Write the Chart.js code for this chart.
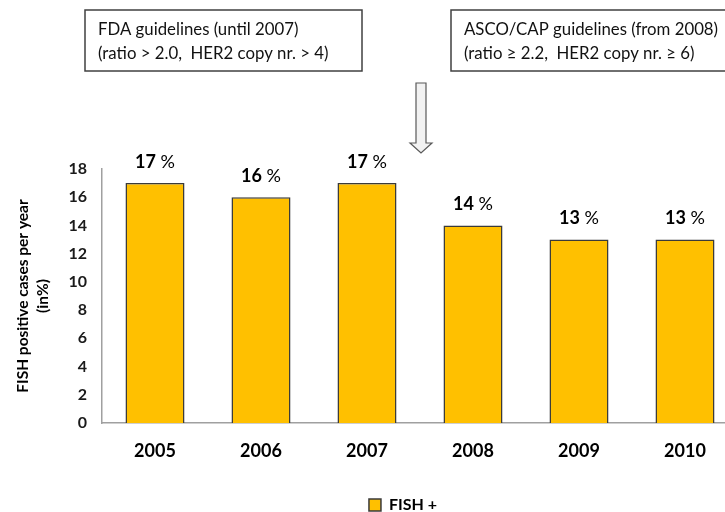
<!DOCTYPE html>
<html><head><meta charset="utf-8">
<script src="https://cdn.jsdelivr.net/npm/chart.js@4"></script>
<style>
html,body{margin:0;padding:0;overflow:hidden;background:#fff;width:725px;height:512px}
#wrap{position:relative;width:760px;height:512px}
</style>
</head><body><div id="wrap"><canvas id="c" width="760" height="512"></canvas></div>
<script>
const categories = ['2005', '2006', '2007', '2008', '2009', '2010'];
const fishPositive = [17, 16, 17, 14, 13, 13];
const yTickValues = [0, 2, 4, 6, 8, 10, 12, 14, 16, 18];
const seriesName = 'FISH +';
const yTitleLines = ['FISH positive cases per year', '(in%)'];
const noteFDA = ['FDA guidelines (until 2007)', '(ratio > 2.0,  HER2 copy nr. > 4)'];
const noteASCO = ['ASCO/CAP guidelines (from 2008)', '(ratio \u2265 2.2,  HER2 copy nr. \u2265 6)'];

const FONT = 'Lato, "Open Sans", sans-serif';

const extras = {
  id: 'extras',
  afterDraw(chart) {
    const ctx = chart.ctx;
    ctx.save();
    function box(x, y, w, h, lines) {
      ctx.fillStyle = '#fff';
      ctx.fillRect(x, y, w, h);
      ctx.strokeStyle = '#404040';
      ctx.lineWidth = 1.5;
      ctx.strokeRect(x, y, w, h);
      ctx.fillStyle = '#111';
      ctx.font = '16.8px ' + FONT;
      ctx.textAlign = 'left';
      ctx.textBaseline = 'alphabetic';
      ctx.fillText(lines[0], x + 13, y + 25);
      ctx.fillText(lines[1], x + 13, y + 49);
    }
    box(85, 10, 277, 61, noteFDA);
    box(451, 10, 300, 61, noteASCO);
    ctx.beginPath();
    ctx.moveTo(416, 83); ctx.lineTo(426, 83); ctx.lineTo(426, 143);
    ctx.lineTo(432, 143); ctx.lineTo(421, 153); ctx.lineTo(410, 143);
    ctx.lineTo(416, 143); ctx.closePath();
    ctx.fillStyle = '#f2f2f2'; ctx.fill();
    ctx.strokeStyle = '#595959'; ctx.lineWidth = 1.2; ctx.stroke();
    const ca = chart.chartArea;
    const cy = (ca.top + ca.bottom) / 2;
    ctx.fillStyle = '#000';
    ctx.font = 'bold 15.5px ' + FONT;
    ctx.textAlign = 'center';
    ctx.textBaseline = 'middle';
    ctx.translate(23, cy); ctx.rotate(-Math.PI / 2);
    ctx.fillText(yTitleLines[0], 0, 0);
    ctx.fillText(yTitleLines[1], 0, 20);
    ctx.restore();
  },
  afterDatasetsDraw(chart) {
    const ctx = chart.ctx;
    const meta = chart.getDatasetMeta(0);
    ctx.save();
    ctx.fillStyle = '#000';
    ctx.textBaseline = 'middle';
    ctx.textAlign = 'left';
    meta.data.forEach((bar, i) => {
      const num = String(fishPositive[i]);
      const pct = ' %';
      ctx.font = 'bold 18px ' + FONT;
      const w1 = ctx.measureText(num).width;
      ctx.font = '18px ' + FONT;
      const w2 = ctx.measureText(pct).width;
      const x0 = bar.x - (w1 + w2) / 2;
      const y = bar.y - 21;
      ctx.font = 'bold 18px ' + FONT;
      ctx.fillText(num, x0, y);
      ctx.font = '18px ' + FONT;
      ctx.fillText(pct, x0 + w1, y);
    });
    ctx.restore();
  }
};

new Chart(document.getElementById('c'), {
  type: 'bar',
  data: {
    labels: categories,
    datasets: [{
      label: seriesName,
      data: fishPositive,
      backgroundColor: '#FFC000',
      borderColor: '#3a3a3a',
      borderWidth: 1.5,
      categoryPercentage: 1,
      barPercentage: 0.557
    }]
  },
  options: {
    responsive: false,
    animation: false,
    devicePixelRatio: 1,
    layout: { padding: { left: 68, right: 22, top: 169, bottom: -11 } },
    plugins: {
      tooltip: { enabled: false },
      legend: {
        position: 'bottom',
        labels: {
          boxWidth: 12, boxHeight: 12, padding: 4,
          color: '#000',
          font: { family: FONT, size: 16, weight: 'bold' }
        }
      }
    },
    scales: {
      x: {
        grid: { display: false, drawTicks: false },
        border: { display: true, color: '#a0a0a0', width: 1.5 },
        ticks: { color: '#000', padding: 17, font: { family: FONT, size: 18, weight: 'bold' } },
        afterFit(s) { s.height = 70; }
      },
      y: {
        min: 0, max: 18,
        afterBuildTicks(s) { s.ticks = yTickValues.map(v => ({ value: v })); },
        grid: { display: false, drawTicks: false },
        border: { display: true, color: '#a0a0a0', width: 1.5 },
        ticks: { color: '#1a1a1a', padding: 15, font: { family: FONT, size: 16, weight: 'bold' } },
        afterFit(s) { s.width = 34; }
      }
    }
  },
  plugins: [extras]
});
</script>
</body></html>
